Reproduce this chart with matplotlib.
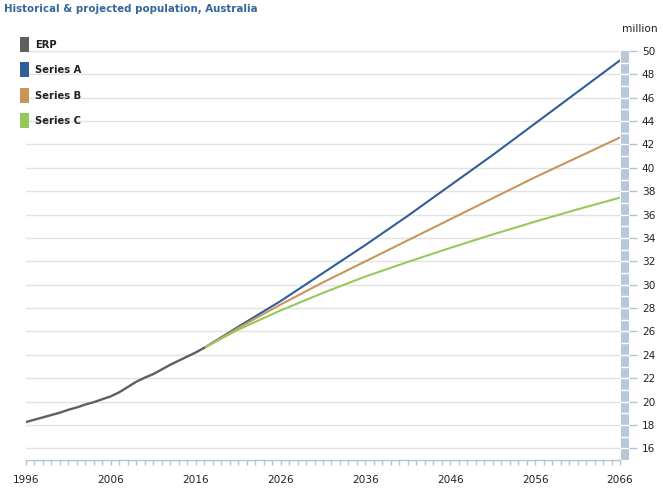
import matplotlib
matplotlib.use("Agg")
import matplotlib.pyplot as plt
from matplotlib.patches import Rectangle

erp_years = list(range(1996, 2018))
erp_values = [18.25, 18.45, 18.65, 18.85, 19.05, 19.3, 19.5, 19.75, 19.95, 20.2, 20.45,
              20.8, 21.25, 21.7, 22.05, 22.35, 22.75, 23.15, 23.5, 23.85, 24.2, 24.6]
proj_years = [2017, 2021, 2026, 2031, 2036, 2041, 2046, 2051, 2056, 2061, 2066]
series_a = [24.6, 26.4, 28.6, 31.0, 33.4, 35.9, 38.5, 41.1, 43.8, 46.5, 49.2]
series_b = [24.6, 26.3, 28.3, 30.2, 32.0, 33.8, 35.6, 37.4, 39.2, 40.9, 42.6]
series_c = [24.6, 26.15, 27.8, 29.3, 30.7, 31.95, 33.15, 34.3, 35.4, 36.45, 37.45]
x_ticks = [1996, 2006, 2016, 2026, 2036, 2046, 2056, 2066]
y_ticks = list(range(16, 51, 2))
legend_labels = ["ERP", "Series A", "Series B", "Series C"]
colors = ["#5f5f5f", "#2f5f97", "#c8955a", "#96c95a"]

W, H = 663, 488
fig = plt.figure(figsize=(W / 100, H / 100), dpi=100)
plt.rcParams['font.family'] = ['DejaVu Sans']

axis_col = "#b4c4d4"
text_col = "#222222"

def fx(px):
    return px / W

def fy(py):
    return 1 - py / H

ax = fig.add_axes([fx(26), fy(460), fx(620 - 26), (460 - 51) / H])
ax.set_xlim(1996, 2066)
ax.set_ylim(15, 50)
for s in ["top", "right", "left"]:
    ax.spines[s].set_visible(False)
ax.spines["bottom"].set_color(axis_col)
ax.spines["bottom"].set_linewidth(1)
ax.set_yticks(y_ticks)
ax.tick_params(axis="y", left=False, labelleft=False)
ax.yaxis.grid(True, color="#e2e2e2", linewidth=1)
ax.set_axisbelow(True)
ax.set_xticks(x_ticks)
ax.set_xticks(list(range(1996, 2067)), minor=True)
ax.tick_params(axis="x", which="both", length=3.5, color=axis_col, width=1,
               labelsize=7.6, labelcolor=text_col, pad=7)

ax.plot(proj_years, series_a, color=colors[1], lw=1.5, solid_capstyle="round")
ax.plot(proj_years, series_b, color=colors[2], lw=1.5, solid_capstyle="round")
ax.plot(proj_years, series_c, color=colors[3], lw=1.5, solid_capstyle="round")
ax.plot(erp_years, erp_values, color=colors[0], lw=1.7, solid_capstyle="round")

# right bar axis
bax = fig.add_axes([fx(621), fy(460), fx(8), (460 - 51) / H])
bax.set_xlim(0, 1)
bax.set_ylim(15, 50)
bax.add_patch(Rectangle((0, 15), 1, 35, color="#b8c8d9", lw=0))
for v in range(16, 50):
    bax.axhline(v, color="white", lw=1)
for s in bax.spines.values():
    s.set_visible(False)
bax.set_xticks([])
bax.yaxis.tick_right()
bax.set_yticks(y_ticks)
bax.tick_params(axis="y", length=5.8, color=axis_col, width=1, labelsize=7.6,
                labelcolor=text_col, pad=3.5)

fig.text(fx(640), fy(29), "million", fontsize=7.6, color=text_col, ha="center", va="center")
fig.text(fx(4), fy(9), "Historical & projected population, Australia", fontsize=7.4,
         fontweight="bold", color="#336699", ha="left", va="center")

leg_y = [45, 70, 96, 121]
for lab, c, yy in zip(legend_labels, colors, leg_y):
    fig.patches.append(Rectangle((fx(20), fy(yy + 7)), fx(9), 15 / H, color=c, lw=0,
                                 transform=fig.transFigure, figure=fig))
    fig.text(fx(35), fy(yy), lab, fontsize=7.2, fontweight="bold", color=text_col,
             ha="left", va="center")

fig.savefig("out.png", dpi=100)
